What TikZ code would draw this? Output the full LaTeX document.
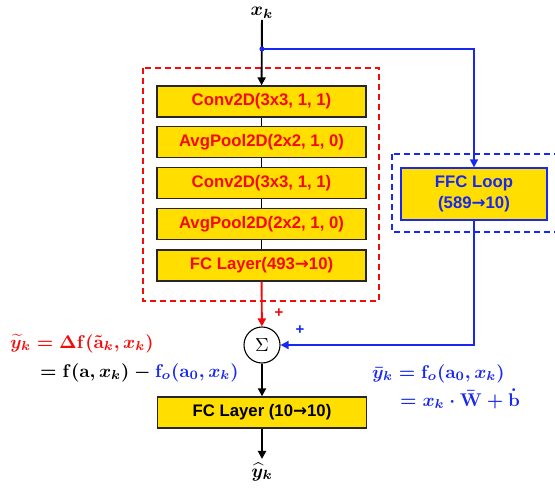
\documentclass[tikz,border=0pt]{standalone}
\usepackage{amsmath,bm}
\usepackage{fontspec}
\setmainfont{Liberation Sans}
\newfontfamily\arrfont{DejaVu Sans}
\usetikzlibrary{arrows.meta}
\definecolor{boxyellow}{RGB}{255,222,0}
\definecolor{myred}{RGB}{245,10,10}
\definecolor{myblue}{RGB}{25,40,240}
\newcommand{\mbig}[2]{\scalebox{#1}{\boldmath$#2$}}
\newcommand{\rarr}{{\arrfont\bfseries →}}
\begin{document}
\begin{tikzpicture}[x=1bp,y=-1bp,
  layer/.style={draw=black!85, line width=1.3bp, fill=boxyellow, minimum width=209bp,
    minimum height=31bp, inner sep=0pt, font=\fontsize{16.8}{19}\selectfont\bfseries, text=myred},
  ffcbox/.style={draw=myblue, line width=1.3bp, fill=boxyellow, minimum width=146bp,
    minimum height=52bp, inner sep=0pt, align=center, font=\fontsize{16.8}{21}\selectfont\bfseries, text=myblue},
  sumnode/.style={circle, draw=black, line width=1.1bp, minimum size=36bp, inner sep=0pt},
  arr/.style={-{Triangle[length=8bp,width=8bp]}},
  mainline/.style={line width=1.9bp},
  eq/.style={anchor=base west, inner sep=0pt},
  dashbox/.style={line width=1.3bp, dash pattern=on 6bp off 4bp}
]
\useasboundingbox (0,0) rectangle (555,488);

% dashed frames
\draw[dashbox, myred] (143,68) rectangle (379,301);
\draw[dashbox, myblue] (392,154) rectangle (558,232);

% nodes
\node[inner sep=1bp] (xk) at (262,13) {\mbig{1.9}{x_k}};
\node[inner sep=0bp] (yk) at (262,472) {\mbig{1.9}{\widehat{y}_k}};
\coordinate (split) at (262,49);

\node[layer] (c1) at (261.5,101.5) {Conv2D(3x3, 1, 1)};
\node[layer] (p1) at (261.5,142) {AvgPool2D(2x2, 1, 0)};
\node[layer] (c2) at (261.5,183) {Conv2D(3x3, 1, 1)};
\node[layer] (p2) at (261.5,224) {AvgPool2D(2x2, 1, 0)};
\node[layer] (fc1) at (261.5,265.5) {FC Layer(493\rarr10)};
\node[ffcbox] (ffc) at (474,194) {FFC Loop\\(589\rarr10)};
\node[sumnode] (sum) at (262,345) {\scalebox{1.9}{$\Sigma$}};
\node[layer, text=black] (fc2) at (262,412.5) {FC Layer (10\rarr10)};

% connectors
\draw[mainline, arr] (xk) -- (c1);
\draw[mainline] (c1) -- (p1);
\draw[mainline] (p1) -- (c2);
\draw[mainline] (c2) -- (p2);
\draw[mainline] (p2) -- (fc1);
\draw[mainline, myred, arr] (fc1) -- (sum);
\draw[mainline, arr] (sum) -- (fc2);
\draw[mainline, arr, shorten >=4bp] (fc2) -- (yk);
\draw[line width=1.6bp, myblue, arr] (split) -| (ffc);
\draw[line width=1.6bp, myblue, arr] (ffc.south) |- (sum.east);
\fill[myblue] (split) circle (2.6);

% signs
\node[text=myred, font=\fontsize{15}{16}\selectfont\bfseries] (pr) at (279,313) {+};
\node[text=myblue, font=\fontsize{15}{16}\selectfont\bfseries] (pb) at (300,330) {+};

% equations
\node[eq, text=myred] (ea) at (10,348) {\mbig{1.85}{\widetilde{y}_k = \Delta\mathbf{f}(\tilde{\mathbf{a}}_k, x_k)}};
\node[eq, text=black] (eb) at (40,377) {\mbig{1.85}{= \mathbf{f}(\mathbf{a}, x_k) - {\color{myblue}\mathbf{f}_o(\mathbf{a}_0, x_k)}}};
\node[eq, text=myblue] (ec) at (372,378) {\mbig{1.85}{\bar{y}_k = \mathbf{f}_o(\mathbf{a}_0, x_k)}};
\node[eq, text=myblue] (ed) at (400,406) {\mbig{1.85}{= x_k \cdot \bar{\mathbf{W}} + \dot{\mathbf{b}}}};
\end{tikzpicture}
\end{document}
